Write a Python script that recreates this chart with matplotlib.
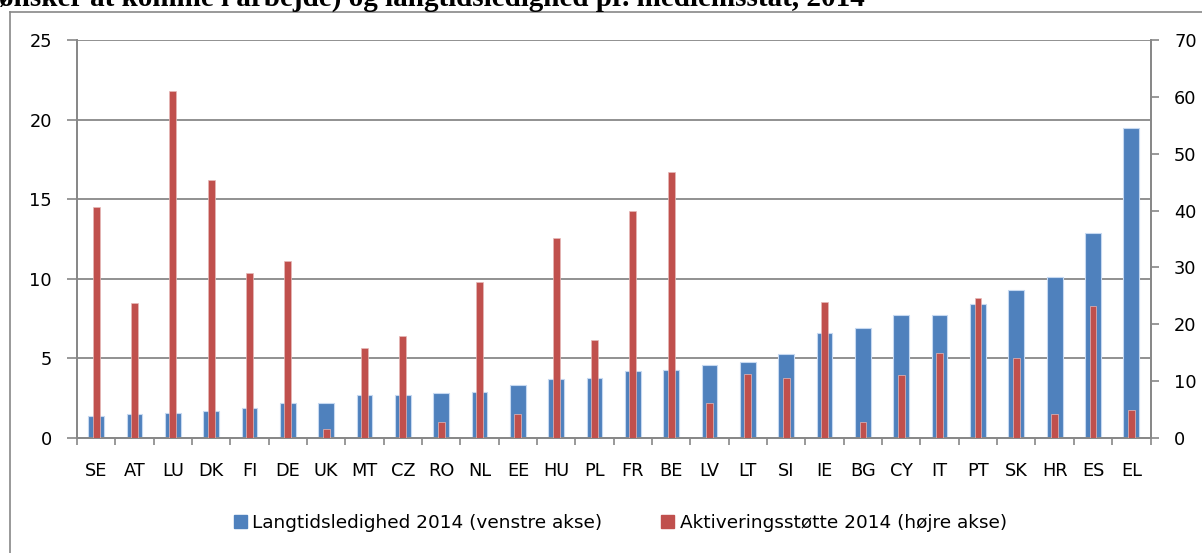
import numpy as np
import matplotlib.pyplot as plt
from matplotlib.patches import Patch
from matplotlib.lines import Line2D

# data
countries = ["SE", "AT", "LU", "DK", "FI", "DE", "UK", "MT", "CZ", "RO", "NL", "EE", "HU", "PL",
             "FR", "BE", "LV", "LT", "SI", "IE", "BG", "CY", "IT", "PT", "SK", "HR", "ES", "EL"]
langtid = [1.4, 1.5, 1.6, 1.7, 1.9, 2.2, 2.2, 2.7, 2.7, 2.8, 2.9, 3.3, 3.7, 3.8,
           4.2, 4.3, 4.6, 4.8, 5.3, 6.6, 6.9, 7.7, 7.7, 8.4, 9.3, 10.1, 12.9, 19.5]
aktivering = [40.6, 23.7, 61.1, 45.4, 29.0, 31.1, 1.5, 15.9, 18.0, 2.9, 27.5, 4.2, 35.2, 17.2,
              40.0, 46.7, 6.1, 11.2, 10.5, 23.9, 2.9, 11.0, 14.9, 24.6, 14.1, 4.3, 23.3, 4.9]

left_ticks = [0, 5, 10, 15, 20, 25]
right_ticks = [0, 10, 20, 30, 40, 50, 60, 70]

title = "ønsker at komme i arbejde) og langtidsledighed pr. medlemsstat, 2014"
lbl_blue = "Langtidsledighed 2014 (venstre akse)"
lbl_red = "Aktiveringsstøtte 2014 (højre akse)"

blue = "#4F81BD"
red = "#C0504D"
gray = "#888888"

plt.rcParams['font.family'] = ['DejaVu Sans']

fig = plt.figure(figsize=(12.02, 5.53), dpi=100)
W, H = 1202, 553

# outer chart frame (cut off at right and bottom)
fig.add_artist(Line2D([10 / W, 10 / W], [0, 1 - 12 / H], transform=fig.transFigure, color=gray, lw=1.2))
fig.add_artist(Line2D([10 / W, 1], [1 - 12 / H, 1 - 12 / H], transform=fig.transFigure, color=gray, lw=1.2))

# cropped title from the surrounding document
fig.text(-0.001, 1 - 6 / H, title, fontsize=21, fontweight='bold', family='Liberation Serif',
         va='baseline', ha='left')

ax = fig.add_axes([77 / W, 1 - 438 / H, (1150.5 - 77) / W, (438 - 40) / H])
x = np.arange(len(countries))

ax.bar(x, langtid, width=0.41, color=blue, edgecolor="#c6d9f1", linewidth=0.8, zorder=2)
ax.set_ylim(0, 25)
ax.set_yticks(left_ticks)
ax.set_xlim(-0.5, len(countries) - 0.5)
ax.grid(axis='y', color=gray, lw=1.3, zorder=0)
ax.set_axisbelow(True)

ax.set_xticks(np.arange(len(countries) + 1) - 0.5)
ax.set_xticklabels([])
ax.set_xticks(x, minor=True)
ax.set_xticklabels(countries, minor=True, fontsize=12.8)
ax.tick_params(axis='x', which='major', length=5, width=1.2, color=gray, direction='out')
ax.tick_params(axis='x', which='minor', length=0, pad=17)
ax.tick_params(axis='y', length=7, width=1.2, color=gray, pad=11, labelsize=12.8)

ax2 = ax.twinx()
ax2.bar(x, aktivering, width=0.18, color=red, edgecolor="#e6b9b8", linewidth=0.5, zorder=3)
ax2.set_ylim(0, 70)
ax2.set_yticks(right_ticks)
ax2.tick_params(axis='y', length=6, width=1.2, color=gray, pad=11, labelsize=12.8)

for a in (ax, ax2):
    a.spines['top'].set_visible(False)
    for s in ('left', 'right', 'bottom'):
        a.spines[s].set_color(gray)
        a.spines[s].set_linewidth(1.3)

handles = [Patch(color=blue, label=lbl_blue), Patch(color=red, label=lbl_red)]
fig.legend(handles=handles, loc='center', bbox_to_anchor=(0.516, 1 - 523 / H), ncol=2,
           frameon=False, fontsize=13.3, handlelength=0.7, handleheight=0.7,
           handletextpad=0.3, columnspacing=3.2)

fig.savefig("out.png", dpi=100)
